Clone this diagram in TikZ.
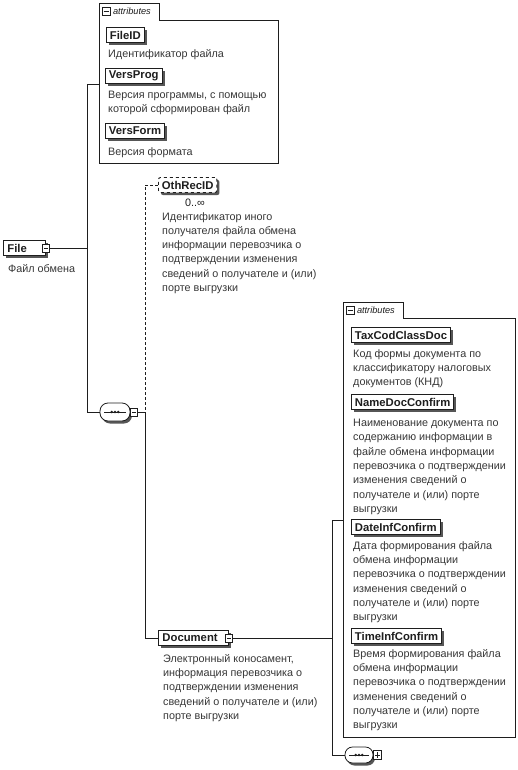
\documentclass[tikz,border=0pt]{standalone}
\usepackage{fontspec}
\setmainfont{Liberation Sans}
\usetikzlibrary{shadows,positioning}
\definecolor{ink}{RGB}{30,30,30}
\definecolor{note}{RGB}{55,55,55}
\tikzset{
  elem/.style={draw=ink, line width=0.9pt, fill=white, anchor=west,
    font=\fontsize{11.3}{12}\selectfont\bfseries, text=ink,
    inner xsep=3.5pt, inner ysep=0pt, minimum height=15pt,
    drop shadow={shadow xshift=2.5pt, shadow yshift=-2.5pt, fill=ink!75, opacity=1}},
  desc/.style={anchor=north west, align=left, inner sep=0pt,
    font=\fontsize{10.8}{14.3}\selectfont, text=note},
  attrbox/.style={draw=ink, line width=0.9pt},
  tablabel/.style={font=\fontsize{9.2}{10}\selectfont\itshape, text=ink, inner sep=0pt, anchor=west},
  wire/.style={draw=ink, line width=0.8pt},
  optwire/.style={wire, densely dashed},
  pmbox/.style={draw=ink, fill=white, line width=0.6pt, minimum width=7pt, minimum height=8pt, inner sep=0pt},
  minus/.style={path picture={\draw[ink, line width=0.6pt]
    ([xshift=1.5pt]path picture bounding box.west) -- ([xshift=-1.5pt]path picture bounding box.east);}},
  plus/.style={path picture={\draw[ink, line width=0.6pt]
    ([xshift=1.5pt]path picture bounding box.west) -- ([xshift=-1.5pt]path picture bounding box.east)
    ([yshift=-1.5pt]path picture bounding box.north) -- ([yshift=1.5pt]path picture bounding box.south);}},
  seqbox/.style={draw=ink, fill=white, line width=0.8pt, rounded corners=8pt,
    minimum width=30pt, minimum height=18pt, inner sep=0pt,
    drop shadow={shadow xshift=2pt, shadow yshift=-2.5pt, fill=ink!75, opacity=1},
    path picture={\draw[ink, line width=0.7pt]
      ([xshift=4pt]path picture bounding box.west) -- ([xshift=-4pt]path picture bounding box.east);
      \foreach \d in {-3.2,0,3.2}{\fill[ink] ([xshift=\d pt]path picture bounding box.center) circle (1.4pt);}}}
}

\begin{document}
\begin{tikzpicture}[x=1pt,y=-1pt]
    \useasboundingbox (0,0) rectangle (518,770);
    \fill[white] (0,0) rectangle (518,770);
    \draw[attrbox] (99,163) -- (99,3) -- (159,3) -- (159,20) -- (278,20) -- (278,163) -- cycle;
    \node[pmbox,minus,minimum width=8pt] (tabSignA) at (106,11) {};
    \node[tablabel,right=2.5pt of tabSignA] (tabA) {attributes};
    \draw[attrbox] (343,737) -- (343,302) -- (403,302) -- (403,318) -- (515,318) -- (515,737) -- cycle;
    \node[pmbox,minus,minimum width=8pt] (tabSignB) at (350,310) {};
    \node[tablabel,right=2.5pt of tabSignB] (tabB) {attributes};
    \coordinate (attrAIn) at (99,84);
    \coordinate (attrBIn) at (343,520);
    \coordinate (aTop) at (87,84);
    \coordinate (aBot) at (87,412);
    \coordinate (bTop) at (145,185);
    \coordinate (bMid) at (145,412);
    \coordinate (bBot) at (145,638);
    \coordinate (cTop) at (332,520);
    \coordinate (cBot) at (332,755);
    \node[elem,minimum width=42pt,text width=34pt] (file) at (3,248) {File};
    \node[pmbox,minus] (fileIcon) at (file.east) {};
    \node[seqbox] (seqA) at (115,412) {};
    \node[pmbox,minus,anchor=west] (seqAIcon) at (seqA.east) {};
    \node[elem,dashed,rounded corners=2pt] (othRecID) at (158,185) {OthRecID};
    \node[elem,minimum width=70pt,text width=62pt] (document) at (158,638) {Document};
    \node[pmbox,minus] (docIcon) at (document.east) {};
    \node[seqbox,minimum width=28pt,minimum height=16pt,rounded corners=7.5pt] (seqB) at (359,755) {};
    \node[pmbox,plus,anchor=west,minimum width=8pt,minimum height=9pt] (seqBIcon) at (seqB.east) {};
    \draw[wire] (fileIcon.east) -- (fileIcon.east -| aTop);
    \draw[wire] (attrAIn) -- (aTop) -- (aBot) -- (seqA.west);
    \draw[wire] (seqAIcon.east) -- (bMid);
    \draw[optwire] (othRecID.west) -- (bTop) -- (bMid);
    \draw[wire] (bMid) -- (bBot) -- (document.west);
    \draw[wire] (docIcon.east) -- (docIcon.east -| cTop);
    \draw[wire] (attrBIn) -- (cTop) -- (cBot) -- (seqB.west);
    \node[elem] (fileID) at (106,35) {FileID};
    \node[elem] (versProg) at (105,76) {VersProg};
    \node[elem] (versForm) at (105,131) {VersForm};
    \node[elem] (taxCod) at (351,335) {TaxCodClassDoc};
    \node[elem] (nameDoc) at (351,402) {NameDocConfirm};
    \node[elem] (dateInf) at (351,527) {DateInfConfirm};
    \node[elem] (timeInf) at (351,636) {TimeInfConfirm};
    \node[desc] (fileIDNote) at (108,49) {Идентификатор файла};
    \node[desc] (versProgNote) at (108,91) {Версия программы, с помощью\\которой сформирован файл};
    \node[desc] (versFormNote) at (108,147) {Версия формата};
    \node[desc] (fileNote) at (8,264) {Файл обмена};
    \node[desc,anchor=center,text=ink] (othRecIDMult) at (195,203) {0..∞};
    \node[desc] (othRecIDNote) at (162,212) {Идентификатор иного\\получателя файла обмена\\информации перевозчика о\\подтверждении изменения\\сведений о получателе и (или)\\порте выгрузки};
    \node[desc] (documentNote) at (163,654) {Электронный коносамент,\\информация перевозчика о\\подтверждении изменения\\сведений о получателе и (или)\\порте выгрузки};
    \node[desc] (taxCodNote) at (353,349) {Код формы документа по\\классификатору налоговых\\документов (КНД)};
    \node[desc] (nameDocNote) at (353,419) {Наименование документа по\\содержанию информации в\\файле обмена информации\\перевозчика о подтверждении\\изменения сведений о\\получателе и (или) порте\\выгрузки};
    \node[desc] (dateInfNote) at (353,541) {Дата формирования файла\\обмена информации\\перевозчика о подтверждении\\изменения сведений о\\получателе и (или) порте\\выгрузки};
    \node[desc] (timeInfNote) at (353,649) {Время формирования файла\\обмена информации\\перевозчика о подтверждении\\изменения сведений о\\получателе и (или) порте\\выгрузки};
\end{tikzpicture}
\end{document}
